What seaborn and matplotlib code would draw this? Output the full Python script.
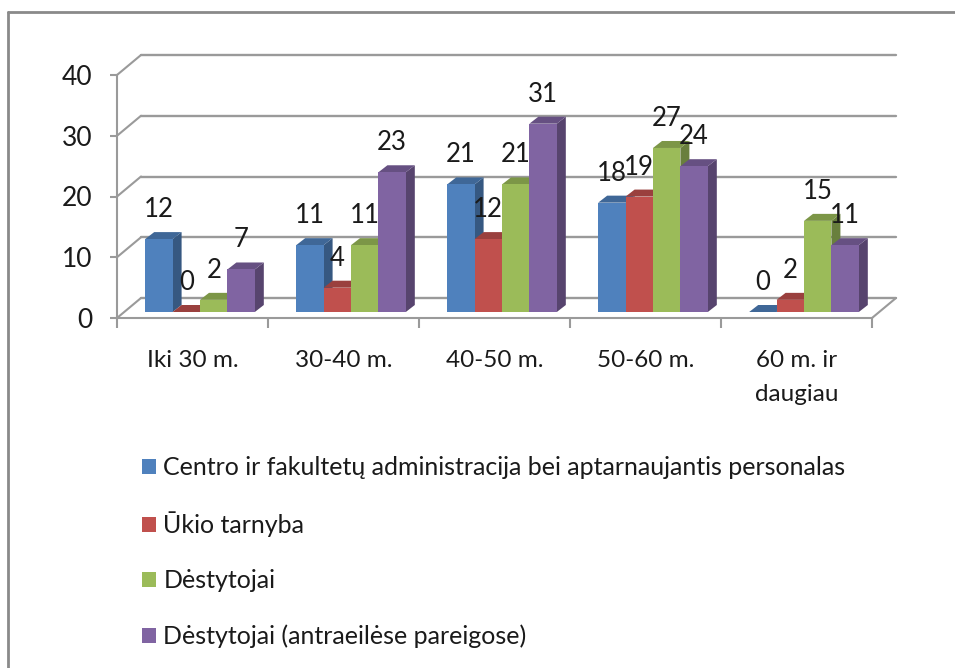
import matplotlib
matplotlib.use("Agg")
import matplotlib.pyplot as plt
from matplotlib.colors import to_rgb
from matplotlib.lines import Line2D
from matplotlib.patches import Patch, Polygon
from matplotlib.transforms import Affine2D, IdentityTransform
import pandas as pd
import seaborn as sns

categories = ["Iki 30 m.", "30-40 m.", "40-50 m.", "50-60 m.", "60 m. ir\ndaugiau"]
series_names = [
    "Centro ir fakultetų administracija bei aptarnaujantis personalas",
    "Ūkio tarnyba",
    "Dėstytojai",
    "Dėstytojai (antraeilėse pareigose)",
]
admin = [12, 11, 21, 18, 0]
ukio = [0, 4, 12, 19, 2]
destytojai = [2, 11, 21, 27, 15]
antraeiles = [7, 23, 31, 24, 11]
colors = ["#4F81BD", "#C0504D", "#9BBB59", "#8064A2"]
y_ticks = [0, 10, 20, 30, 40]

W, H = 955, 668
GRAY = "#9a9a9a"
sns.set_theme(style="white")
plt.rcParams["font.family"] = ["Lato", "Open Sans", "DejaVu Sans"]

df = pd.DataFrame(
    [(c, s, v) for s, vals in zip(series_names, [admin, ukio, destytojai, antraeiles])
     for c, v in zip(categories, vals)],
    columns=["Amžius", "Grupė", "Reikšmė"],
)

fig = plt.figure(figsize=(W / 100, H / 100), dpi=100)
ax = fig.add_axes([117 / W, 1 - 318 / H, 755 / W, 243 / H])
ax.patch.set_alpha(0)
sns.barplot(data=df, x="Amžius", y="Reikšmė", hue="Grupė", hue_order=series_names,
            order=categories, palette=colors, width=0.726, gap=0, saturation=1,
            errorbar=None, legend=False, ax=ax, linewidth=0)
ax.set_xlim(-0.5, len(categories) - 0.5)
ax.set_ylim(y_ticks[0], y_ticks[-1])
ax.set_xlabel("")
ax.set_ylabel("")
ax.set_yticks(y_ticks)
ax.set_xticks(range(len(categories)), categories)
ax.set_xticks([i - 0.5 for i in range(len(categories) + 1)], minor=True)
ax.tick_params(axis="x", which="major", length=0, pad=23, labelsize=17.5, labelcolor="#1a1a1a")
ax.tick_params(axis="x", which="minor", length=7, width=1.5, color=GRAY, bottom=True)
ax.tick_params(axis="y", length=5, width=1.5, color=GRAY, left=True, pad=13,
               labelsize=19, labelcolor="#1a1a1a")
for lab in ax.get_xticklabels():
    lab.set_linespacing(1.75)
sns.despine(ax=ax)
for side in ("left", "bottom"):
    ax.spines[side].set_color(GRAY)
    ax.spines[side].set_linewidth(1.5)

# pixel offsets of the pseudo-3D box
BACK = (24, 20)      # back wall relative to the front axis
BAR = (7.5, 6)       # bar fronts relative to the front axis
DEPTH = (9, 7)       # depth of each bar


def to_px(x, y):
    return ax.transData.transform((x, y))


# back wall gridlines, wall diagonals and floor
xmin, xmax = ax.get_xlim()
back = ax.transData + Affine2D().translate(*BACK)
for v in y_ticks:
    ax.plot([xmin, xmax], [v, v], color=GRAY, lw=1.7, transform=back, clip_on=False, zorder=1)
    p = to_px(xmin, v)
    ax.plot([p[0], p[0] + BACK[0]], [p[1], p[1] + BACK[1]], color=GRAY, lw=1.5,
            transform=IdentityTransform(), clip_on=False, zorder=1)
p = to_px(xmax, 0)
ax.plot([p[0], p[0] + BACK[0]], [p[1], p[1] + BACK[1]], color=GRAY, lw=1.5,
        transform=IdentityTransform(), clip_on=False, zorder=1)


def shade(col, f):
    return tuple(c * f for c in to_rgb(col))


# give every bar a depth: side + top, drawn from left to right
bar_front = ax.transData + Affine2D().translate(*BAR)
all_bars = []
for cont, col in zip(ax.containers, colors):
    for rect in cont:
        all_bars.append((rect, col))
all_bars.sort(key=lambda t: t[0].get_x())

for k, (rect, col) in enumerate(all_bars):
    z = 5 + k * 0.1
    rect.set_transform(bar_front)
    rect.set_clip_on(False)
    rect.set_zorder(z + 0.02)
    x0, x1 = rect.get_x(), rect.get_x() + rect.get_width()
    h = rect.get_height()
    a = to_px(x0, h) + BAR
    b = to_px(x1, h) + BAR
    c = to_px(x1, 0) + BAR
    d = (DEPTH[0], DEPTH[1])
    side = [b, b + d, c + d, c]
    top = [a, a + d, b + d, b]
    ax.add_patch(Polygon(side, closed=True, fc=shade(col, 0.68), ec="none",
                         transform=IdentityTransform(), clip_on=False, zorder=z))
    ax.add_patch(Polygon(top, closed=True, fc=shade(col, 0.8), ec="none",
                         transform=IdentityTransform(), clip_on=False, zorder=z + 0.01))
    ax.annotate(f"{int(h)}", xy=((x0 + x1) / 2, h),
                xytext=(BAR[0] * 0.72, (BAR[1] + 17) * 0.72), textcoords="offset points",
                ha="center", va="bottom", fontsize=18.5, color="#1a1a1a",
                annotation_clip=False, zorder=20)

ax.set_xlim(xmin, xmax)
ax.set_ylim(y_ticks[0], y_ticks[-1])

# legend
handles = [Patch(facecolor=c, edgecolor="none", label=n) for c, n in zip(colors, series_names)]
fig.legend(handles=handles, loc="upper left", bbox_to_anchor=(142 / W, 1 - 456 / H),
           frameon=False, fontsize=18, labelspacing=1.29, handlelength=0.56, handleheight=0.56,
           handletextpad=0.29, borderpad=0, borderaxespad=0, labelcolor="#1a1a1a")

# outer frame of the picture (top and left only)
fig.add_artist(Line2D([8 / W, 8 / W], [0, 1 - 12 / H], color="#8a8a8a", lw=2))
fig.add_artist(Line2D([8 / W, 1], [1 - 12 / H, 1 - 12 / H], color="#8a8a8a", lw=2))

fig.savefig("out.png", dpi=100, facecolor="white")
